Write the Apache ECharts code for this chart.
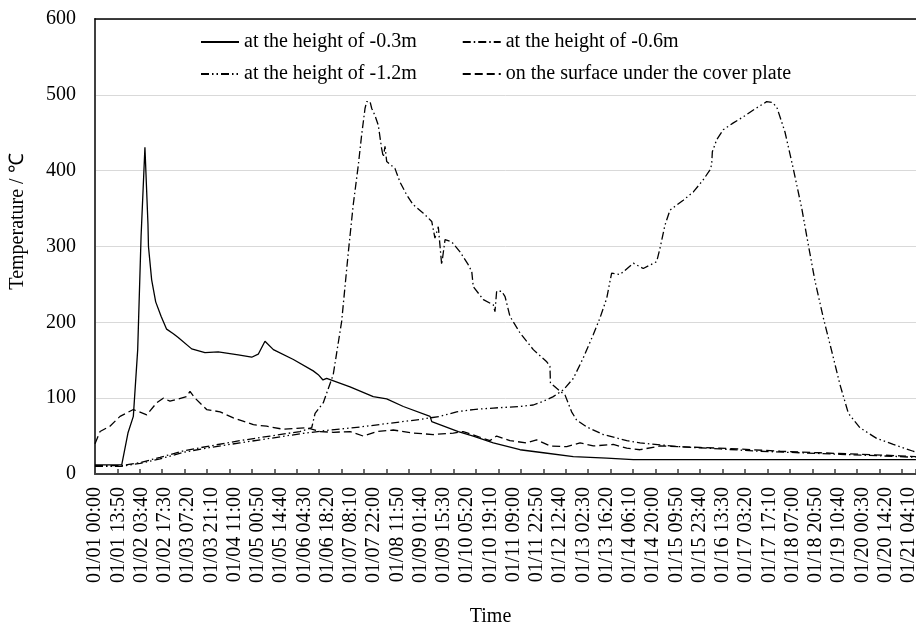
<!DOCTYPE html>
<html><head><meta charset="utf-8">
<script src="https://cdn.jsdelivr.net/npm/echarts@6/dist/echarts.min.js"></script>
<style>html,body{margin:0;padding:0;background:#fff}#c{width:916px;height:626px}</style>
</head><body><div id="c"></div>
<script>
// x tick labels (every 830 minutes from 01/01 00:00)
const tickLabels = ["01/01 00:00","01/01 13:50","01/02 03:40","01/02 17:30","01/03 07:20","01/03 21:10","01/04 11:00","01/05 00:50","01/05 14:40","01/06 04:30","01/06 18:20","01/07 08:10","01/07 22:00","01/08 11:50","01/09 01:40","01/09 15:30","01/10 05:20","01/10 19:10","01/11 09:00","01/11 22:50","01/12 12:40","01/13 02:30","01/13 16:20","01/14 06:10","01/14 20:00","01/15 09:50","01/15 23:40","01/16 13:30","01/17 03:20","01/17 17:10","01/18 07:00","01/18 20:50","01/19 10:40","01/20 00:30","01/20 14:20","01/21 04:10"];
const seriesNames = ["at the height of -0.3m","at the height of -0.6m","at the height of -1.2m","on the surface under the cover plate"];
const yTicks = [0,100,200,300,400,500,600];

// [hours since 01/01 00:00, temperature °C]
const s03 = [[0,12],[15.9,12],[19.6,54],[22.8,76],[25.4,164],[27.4,313],[29.7,431],[30.3,431],[31.5,330],[31.8,300],[33.7,256],[36.1,227],[39.3,208],[42.6,191],[46.6,185],[49.5,180],[57.5,165],[65.4,160],[73.3,161],[85.2,157],[93.2,154],[97.1,158],[101.1,175],[106.1,164],[118.0,151],[129.8,136],[132.8,131],[135.6,124],[137.8,126],[151.7,115],[165.5,102],[173.5,99],[183.4,89],[199.3,76],[200.3,69],[216.1,56],[225.0,50],[236.9,41],[252.8,32],[266.7,28],[284.5,23],[304.4,21],[320.2,19],[488.3,19]];
const s06 = [[0,11],[15.5,11],[26.8,15],[38.7,22],[53.5,31],[68.4,37],[86.2,44],[104.1,50],[121.9,56],[128.9,61],[130.9,80],[135.8,94],[141.7,131],[146.7,201],[150.7,293],[153.6,355],[156.6,407],[158.6,447],[160.6,482],[161.6,491],[163.6,491],[164.6,482],[166.5,473],[168.5,460],[170.5,429],[171.5,418],[172.5,432],[173.5,412],[178.4,403],[181.4,385],[185.4,368],[189.3,355],[195.3,344],[200.3,333],[202.2,311],[204.2,326],[206.2,276],[208.2,309],[212.2,306],[217.1,293],[222.0,276],[224.1,267],[225.0,247],[231.0,230],[236.9,223],[237.9,214],[238.9,241],[241.9,241],[243.9,234],[246.8,208],[252.8,186],[260.7,164],[268.7,148],[270.6,142],[270.9,120],[274.6,113],[279.6,104],[283.5,82],[286.5,71],[292.5,62],[302.3,52],[316.3,44],[324.2,41],[348.0,36],[371.8,33],[395.5,30],[419.3,28],[443.1,26],[466.9,24],[488.3,22]];
const s12 = [[0,10],[15.5,10],[26.8,14],[38.7,20],[53.5,29],[68.4,35],[86.2,41],[104.1,47],[121.9,53],[139.8,58],[157.6,62],[175.5,67],[193.3,72],[205.2,76],[215.1,82],[225.0,85],[236.9,87],[244.9,88],[252.8,89],[260.7,91],[266.7,96],[272.6,102],[278.6,111],[284.5,126],[290.4,153],[296.4,184],[300.4,206],[304.4,232],[306.3,254],[307.3,265],[312.3,263],[320.2,278],[326.1,271],[334.1,280],[336.1,298],[339.0,328],[342.0,348],[349.9,361],[355.9,372],[361.8,388],[365.8,401],[366.8,408],[367.2,425],[369.8,441],[373.7,454],[379.7,463],[385.6,471],[391.6,480],[399.5,491],[402.7,490],[405.5,484],[410.4,451],[415.3,403],[420.4,350],[424.3,302],[428.3,254],[433.2,206],[438.2,162],[443.1,118],[448.1,80],[455.0,61],[464.9,47],[474.8,39],[486.7,30],[488.3,29]];
const sSurf = [[0,40],[3.0,56],[8.9,63],[14.9,76],[22.8,85],[30.8,78],[36.7,94],[40.6,100],[44.6,96],[54.5,102],[56.5,109],[59.5,100],[66.4,85],[74.4,82],[82.3,74],[94.2,65],[102.1,63],[112.0,59],[125.9,61],[133.8,56],[141.7,55],[151.7,56],[159.6,50],[167.5,56],[177.4,58],[189.3,54],[201.2,52],[213.1,54],[219.0,56],[227.0,50],[234.9,44],[238.9,50],[246.8,44],[256.8,41],[262.7,45],[270.6,37],[280.6,36],[288.5,41],[296.4,37],[308.3,39],[316.3,34],[324.2,32],[336.1,37],[359.9,35],[383.7,33],[407.5,30],[431.2,28],[455.0,26],[478.8,24],[488.3,23]];

const FONT = '"Liberation Serif","Times New Roman",serif';
const LABEL_STEP = 830, TICK_STEP = 800, X_MAX = 29300;
const toMin = a => a.map(p => [p[0] * 60, p[1]]);
const dashes = [null, [8, 3, 1.5, 3], [8, 3, 1.5, 3, 1.5, 3], [8, 4]];
const datas = [s03, s06, s12, sSurf];

const chart = echarts.init(document.getElementById('c'), null, {renderer: 'canvas'});
const baseX = {type: 'value', min: 0, max: X_MAX, gridIndex: 0};
const legendCommon = {left: 200, padding: 0, itemGap: 45, itemWidth: 38, itemHeight: 14,
  itemStyle: {color: 'rgba(0,0,0,0)', borderWidth: 0, opacity: 0},
  textStyle: {fontFamily: FONT, fontSize: 20, color: '#000'}};
chart.setOption({
  animation: false,
  backgroundColor: '#fff',
  textStyle: {fontFamily: FONT, color: '#000'},
  grid: {left: 95, right: 0, top: 19, bottom: 152, containLabel: false, outerBoundsMode: 'none'},
  legend: [
    Object.assign({}, legendCommon, {data: [seriesNames[0], seriesNames[1]], top: 32}),
    Object.assign({}, legendCommon, {data: [seriesNames[2], seriesNames[3]], top: 64})
  ],
  xAxis: [
    Object.assign({}, baseX, {
      position: 'bottom', interval: LABEL_STEP,
      name: 'Time', nameLocation: 'middle', nameGap: 133,
      nameTextStyle: {fontFamily: FONT, fontSize: 20, color: '#000', padding: [0, 30, 0, 0]},
      axisLine: {show: false}, axisTick: {show: false}, splitLine: {show: false},
      axisLabel: {rotate: 90, margin: 13, fontFamily: FONT, fontSize: 20, color: '#000', showMaxLabel: false,
        formatter: v => { const i = Math.round(v / LABEL_STEP); return (Math.abs(v - i * LABEL_STEP) < 1e-6 && i < tickLabels.length) ? tickLabels[i] : ''; }}
    }),
    Object.assign({}, baseX, {
      position: 'bottom', interval: TICK_STEP,
      axisLine: {show: true, lineStyle: {color: '#404040', width: 2}},
      axisTick: {show: true, inside: true, length: 5, lineStyle: {color: '#404040', width: 1.5}},
      axisLabel: {show: false}, splitLine: {show: false}
    }),
    Object.assign({}, baseX, {
      position: 'top',
      axisLine: {show: true, lineStyle: {color: '#000', width: 1.5}},
      axisTick: {show: false}, axisLabel: {show: false}, splitLine: {show: false}
    })
  ],
  yAxis: {
    type: 'value', min: yTicks[0], max: yTicks[yTicks.length - 1], interval: 100,
    name: 'Temperature / ℃', nameLocation: 'middle', nameGap: 67, nameRotate: 90,
    nameTextStyle: {fontFamily: FONT, fontSize: 20, color: '#000', padding: [0, 0, 0, 50]},
    axisLine: {show: true, lineStyle: {color: '#404040', width: 2}},
    axisTick: {show: false},
    axisLabel: {margin: 19, fontFamily: FONT, fontSize: 20, color: '#000'},
    splitLine: {show: true, lineStyle: {color: '#d9d9d9', width: 1}}
  },
  series: seriesNames.map((n, k) => ({
    name: n, type: 'line', xAxisIndex: 0, symbol: 'none', showSymbol: false,
    data: toMin(datas[k]),
    lineStyle: {color: '#000', width: 1.3, type: dashes[k] || 'solid'},
    itemStyle: {color: '#000'}
  }))
});
</script></body></html>
